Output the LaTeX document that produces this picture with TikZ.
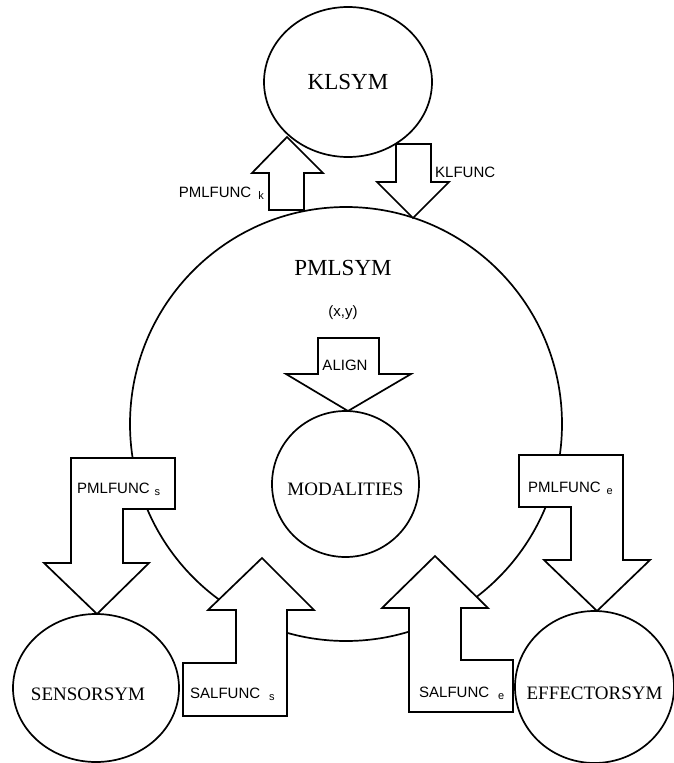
\documentclass[tikz,border=0pt]{standalone}
\usepackage{fontspec}
\setmainfont{Liberation Serif}
\setsansfont{Liberation Sans}
\usetikzlibrary{shapes.geometric}
\newcommand\lowidx[1]{\raisebox{-2.5pt}{\fontsize{11}{13}\selectfont #1}}
\tikzset{
  symb/.style={draw,ellipse,line width=1.7pt,inner sep=0pt,fill=white},
  bigname/.style={font=\fontsize{23}{27}\selectfont},
  smallname/.style={font=\fontsize{19}{23}\selectfont},
  blockarrow/.style={draw,fill=white,line width=1.7pt,line join=miter},
  funclabel/.style={font=\sffamily\fontsize{15}{18}\selectfont,inner sep=0pt}
}
\begin{document}
\begin{tikzpicture}[x=1pt,y=-1pt]
\useasboundingbox (0,0) rectangle (674,763);
% symbol spaces
\node[symb,minimum width=168pt,minimum height=150pt,label={[bigname]center:KLSYM}] (klsym) at (348,82) {};
\node[symb,minimum width=432pt,minimum height=434pt] (pmlsym) at (346,424) {};
\node[bigname] (pmlname) at (343,268) {PMLSYM};
\node[funclabel] (xy) at (343,313) {(x,y)};
\node[symb,minimum width=147pt,minimum height=146pt,label={[smallname,yshift=-5pt]center:MODALITIES}] (modal) at (345.5,484) {};
\node[symb,minimum width=166pt,minimum height=148pt,label={[smallname,xshift=-8pt,yshift=-6pt]center:SENSORSYM}] (sensor) at (96,688) {};
\node[symb,minimum width=159pt,minimum height=152pt,label={[smallname,yshift=-6pt]center:EFFECTORSYM}] (effector) at (594.5,687) {};
% functions
\draw[blockarrow] (269,210) -- (269,173) -- (252,173) -- (287,137) -- (323,173) -- (304,173) -- (304,210) -- cycle;
\node[funclabel,anchor=base east] (pmlk) at (264,197) {PMLFUNC\hspace{7pt}\lowidx{k}};
\draw[blockarrow] (396,144) -- (431,144) -- (431,182) -- (449,182) -- (413,218) -- (377,182) -- (396,182) -- cycle;
\node[funclabel,anchor=base west] (klf) at (435,177) {KLFUNC};
\draw[blockarrow] (318,338) -- (379,338) -- (379,374) -- (411,374) -- (348,411) -- (286,374) -- (318,374) -- cycle;
\node[funclabel,anchor=base] (align) at (345,370) {ALIGN};
\draw[blockarrow] (71,458) -- (175,458) -- (175,509) -- (123,509) -- (123,563) -- (149,563) -- (97,614) -- (44,563) -- (71,563) -- cycle;
\node[funclabel,anchor=base west] (pmls) at (77,493) {PMLFUNC\hspace{5pt}\lowidx{s}};
\draw[blockarrow] (262,558) -- (314,610) -- (287,610) -- (287,716) -- (183,716) -- (183,663) -- (236,663) -- (236,610) -- (208,610) -- cycle;
\node[funclabel,anchor=base west] (sals) at (190,698) {SALFUNC\hspace{9pt}\lowidx{s}};
\draw[blockarrow] (519,455) -- (623,455) -- (623,560) -- (650,560) -- (597,611) -- (544,560) -- (571,560) -- (571,507) -- (519,507) -- cycle;
\node[funclabel,anchor=base west] (pmle) at (528,492) {PMLFUNC\hspace{6pt}\lowidx{e}};
\draw[blockarrow] (435,556) -- (488,608) -- (461,608) -- (461,660) -- (513,660) -- (513,712) -- (409,712) -- (409,608) -- (382,608) -- cycle;
\node[funclabel,anchor=base west] (sale) at (419,697) {SALFUNC\hspace{9pt}\lowidx{e}};
\end{tikzpicture}
\end{document}
